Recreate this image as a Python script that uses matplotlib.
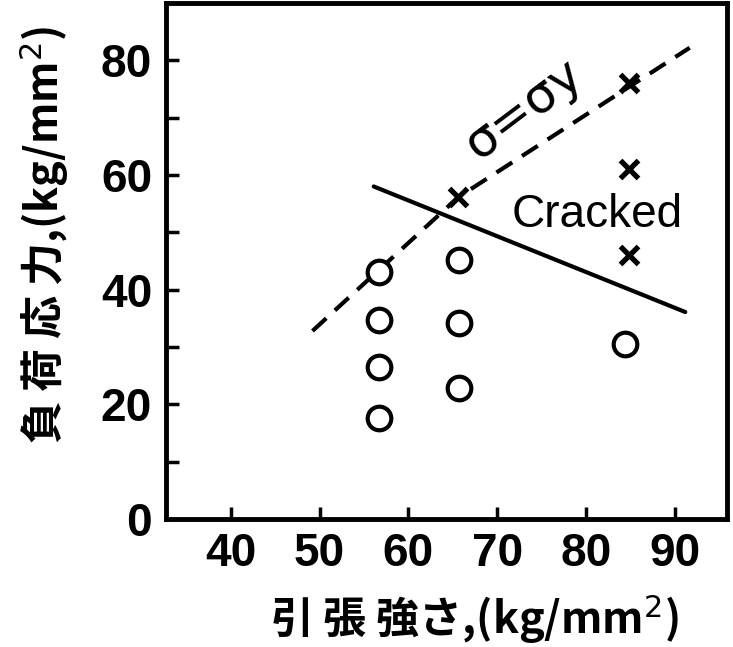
import matplotlib.pyplot as plt

# 未破断 (o)
circle_x = [56.7, 56.7, 56.7, 56.7, 65.7, 65.7, 65.7, 84.4]
circle_y = [43.0, 34.7, 26.5, 17.6, 45.1, 34.1, 22.8, 30.5]
# 割れ (x)
cross_x = [65.6, 84.9, 84.9, 84.9]
cross_y = [56.1, 76.1, 61.1, 46.0]
# sigma = sigma_y line (dashed)
yield_x = [49.2, 65.6, 91.7]
yield_y = [32.8, 56.1, 82.2]
# boundary line (solid)
bound_x = [56.1, 91.2]
bound_y = [58.0, 36.1]

x_ticks = [40, 50, 60, 70, 80, 90]
y_ticks = [0, 20, 40, 60, 80]
y_minor = [10, 30, 50, 70]

jp = ['Noto Sans CJK JP', 'DejaVu Sans']

fig = plt.figure(figsize=(7.33, 6.47), dpi=100)
ax = fig.add_axes([166/733, 1 - 519/647, 561/733, 516/647])

ax.plot(yield_x, yield_y, color='black', lw=3, dashes=(4.5, 2.8), solid_capstyle='round')
ax.plot(bound_x, bound_y, color='black', lw=3, solid_capstyle='round')
ax.plot(circle_x, circle_y, 'o', ms=17, mfc='white', mec='black', mew=3, ls='none')
ax.plot(cross_x, cross_y, 'x', ms=13, mec='black', mew=3.8, ls='none')

ax.text(73.0, 71.5, 'σ=σy', fontsize=36, rotation=37, ha='center', va='center',
        family='DejaVu Sans')
ax.text(81.3, 53.1, 'Cracked', fontsize=33, ha='center', va='center',
        family='Liberation Sans')

ax.set_xlim(32.7, 95.9)
ax.set_ylim(0, 90)
ax.set_xticks(x_ticks)
ax.set_yticks(y_ticks)
ax.set_yticks(y_minor, minor=True)
ax.tick_params(which='both', direction='in', length=9, width=2.5)
ax.tick_params(axis='x', pad=9)
ax.tick_params(axis='y', pad=10)
for lab in ax.get_xticklabels() + ax.get_yticklabels():
    lab.set_fontfamily('Liberation Sans')
    lab.set_fontweight('bold')
    lab.set_fontsize(33)
for s in ax.spines.values():
    s.set_linewidth(3.5)

ax.set_xlabel('引 張 強さ,(kg/mm$^2$)', family=jp, fontweight='bold', fontsize=31)
ax.set_ylabel('負 荷 応 力,(kg/mm$^2$)', family=jp, fontweight='bold', fontsize=31)
ax.xaxis.set_label_coords(0.55, -0.145)
ax.yaxis.set_label_coords(-0.17, 0.55)

fig.savefig('out.png', dpi=100)
